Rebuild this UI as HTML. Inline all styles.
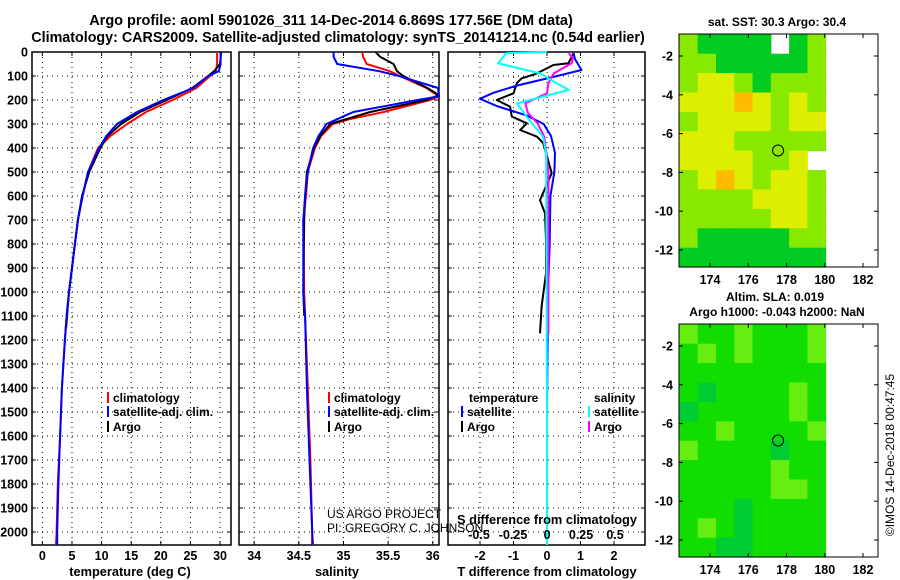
<!DOCTYPE html>
<html><head><meta charset="utf-8"><style>
html,body{margin:0;padding:0;background:#fff;}
svg{display:block;font-family:"Liberation Sans",sans-serif;font-weight:bold;}
</style></head><body>
<svg id="c" width="900" height="580" viewBox="0 0 900 580" xmlns="http://www.w3.org/2000/svg">
<text x="331" y="25" font-size="14.5" text-anchor="middle">Argo profile: aoml 5901026_311 14-Dec-2014 6.869S 177.56E (DM data)</text>
<text x="338" y="42" font-size="14.3" text-anchor="middle">Climatology: CARS2009. Satellite-adjusted climatology: synTS_20141214.nc (0.54d earlier)</text>
<text x="777" y="26" font-size="12" text-anchor="middle">sat. SST: 30.3 Argo: 30.4</text>
<text x="775" y="301" font-size="12" text-anchor="middle">Altim. SLA: 0.019</text>
<text x="777" y="316" font-size="12" text-anchor="middle">Argo h1000: -0.043 h2000: NaN</text>
<text transform="translate(894,455) rotate(-90)" font-size="12" font-weight="normal" text-anchor="middle">©IMOS 14-Dec-2018 00:47:45</text>
<g id="g"></g>
</svg>
<script>
// ---- data ----
const depthsT = [0,50,80,100,150,200,250,300,350,400,500,600,700,800,900,1000,1100,1200,1400,1600,1800,2000,2054];
const tempClim = [29.5,29.5,29.3,28.3,26,22,17.5,14.3,11.5,9.4,7.7,6.8,6.0,5.5,5.0,4.5,4.1,3.8,3.3,3.0,2.6,2.4,2.3];
const tempSat  = [30.1,30.1,29.8,28,25.5,20.4,16,12.6,10.8,9.6,7.7,6.8,6.0,5.5,5.0,4.5,4.1,3.8,3.3,3.0,2.7,2.5,2.5];
const depthsArgo = [0,50,80,100,150,200,250,300,350,400,500,600,700,800,900,1000,1150];
const tempArgo = [30.2,30,29,28,25.3,21,16.5,13.3,11,9.8,7.9,6.7,6.0,5.5,5.0,4.5,4.0];
const depthsS = [0,20,50,80,100,150,185,200,250,280,300,350,400,500,600,700,1000,1100,1400,1700,2000,2054];
const salClim = [35.21,35.22,35.26,35.52,35.63,35.93,36.07,35.97,35.45,35.07,34.88,34.75,34.68,34.6,34.58,34.55,34.56,34.57,34.6,34.63,34.65,34.66];
const salSat  = [34.89,34.89,34.93,35.4,35.62,36.06,36.07,35.83,35.11,34.93,34.81,34.72,34.66,34.6,34.57,34.55,34.55,34.57,34.59,34.62,34.65,34.65];
const depthsSA = [0,20,50,80,100,150,180,200,250,300,350,400,500,600,700,1000,1100];
const salArgo = [35.36,35.41,35.56,35.6,35.67,35.94,36.07,35.93,35.3,34.85,34.74,34.67,34.59,34.57,34.56,34.55,34.56];
const depthsDT = [4,30,75,100,140,170,195,225,265,300,350,420,500,600,800,1000,1500,2054];
const dTsat = [0.79,0.84,1.03,0.3,-0.9,-1.6,-2.0,-1.5,-0.6,-0.1,0.12,0.24,0.22,0.1,0.08,0.03,0.0,0.0];
const depthsDTA = [5,47,54,89,110,130,172,200,228,269,297,325,353,380,505,617,672,783,922,1061,1172];
const dTargo = [0.79,0.64,0.19,-0.3,-0.76,-0.9,-1.0,-1.5,-1.1,-1.05,-0.6,-0.8,-0.3,-0.11,0.14,-0.21,-0.06,-0.03,-0.03,-0.16,-0.21];
const depthsDS = [0,5,47,89,130,158,214,269,353,422,800,1500,2054];
const dSsat = [0.0,-0.3,-0.36,-0.05,0.07,0.16,-0.22,-0.15,-0.03,-0.007,-0.005,0.0,0.0];
const depthsDSA = [5,26,47,89,130,172,214,255,297,353,500,800,1172];
const dSargo = [0.16,0.19,0.18,0.05,0.01,0.0,-0.16,-0.14,-0.07,-0.02,0.01,0.01,0.01];
const depthTicks = [0,100,200,300,400,500,600,700,800,900,1000,1100,1200,1300,1400,1500,1600,1700,1800,1900,2000];
const tTicks = [0,5,10,15,20,25,30];
const sTicks = [34,34.5,35,35.5,36];
const sTickLabels = ["34","34.5","35","35.5","36"];
const dtTicks = [-2,-1,0,1,2];
const dsTicks = [-0.5,-0.25,0,0.25,0.5];
const dsTickLabels = ["-0.5","-0.25","0","0.25","0.5"];
const lonTicks = [174,176,178,180,182];
const latTicks = [-2,-4,-6,-8,-10,-12];
// map grids: rows lat -1..-13 (1 deg), cols lon 172.4..180.05
const sstGrid = [
 [1,0,0,0,0,-1,0,1],
 [1,1,0,0,0,0,0,1],
 [1,2,2,1,0,1,1,1],
 [2,2,2,3,2,1,2,1],
 [1,2,2,2,2,1,2,2],
 [2,2,2,1,1,1,1,1],
 [2,2,2,2,1,1,2,-1],
 [1,2,3,2,1,2,2,1],
 [1,1,1,1,2,2,2,1],
 [1,1,1,1,1,2,2,1],
 [1,0,0,0,0,0,1,1],
 [0,0,0,0,0,0,0,0]];
const slaGrid = [
 [2,1,1,2,1,1,1,2],
 [1,2,1,2,1,1,1,2],
 [1,1,1,1,1,1,1,1],
 [1,0,1,1,1,1,2,1],
 [0,1,1,1,1,1,2,1],
 [1,1,2,1,1,1,1,2],
 [2,1,1,1,1,0,1,1],
 [1,1,1,1,1,2,1,1],
 [1,1,1,1,1,2,2,1],
 [1,1,1,0,1,1,1,1],
 [1,2,1,0,1,1,1,1],
 [1,1,0,0,1,1,1,1]];
const argoLon = 177.56, argoLat = -6.87;

const NS="http://www.w3.org/2000/svg";
const G=document.getElementById('g');
function mk(tag,attrs,parent){const e=document.createElementNS(NS,tag);for(const k in attrs)e.setAttribute(k,attrs[k]);(parent||G).appendChild(e);return e;}
const Y0=52,Y1=545;
const yD=d=>Y0+0.24*d;
function lin(d0,d1,r0,r1){return v=>r0+(v-d0)*(r1-r0)/(d1-d0);}
const xT=lin(-1.75,31.85,32,231);
const xS=lin(33.83,36.07,239,439);
const xDT=lin(-2.955,2.925,448,645);
const xDS=lin(-0.728,0.72,448,645);

function panel(x0,x1,name){
  const g=mk('g',{});
  
  
  mk('rect',{x:x0,y:Y0,width:x1-x0,height:Y1-Y0,fill:'#fff',stroke:'#000','stroke-width':1.5},g);
  depthTicks.forEach(d=>{
    const y=yD(d);
    if(d>0) mk('line',{x1:x0,x2:x1,y1:y,y2:y,stroke:'#000','stroke-width':1,'stroke-dasharray':'1,4'},g);
    mk('line',{x1:x0,x2:x0+4,y1:y,y2:y,stroke:'#000'},g);
    mk('line',{x1:x1-4,x2:x1,y1:y,y2:y,stroke:'#000'},g);
  });
  return g;
}
function vgrid(g,ticks,xf,labels){
  ticks.forEach((t,i)=>{
    const x=xf(t);
    mk('line',{x1:x,x2:x,y1:Y0,y2:Y1,stroke:'#000','stroke-width':1,'stroke-dasharray':'1,4'},g);
    mk('line',{x1:x,x2:x,y1:Y1-4,y2:Y1,stroke:'#000'},g);
    mk('line',{x1:x,x2:x,y1:Y0,y2:Y0+4,stroke:'#000'},g);
    const tx=mk('text',{x:x,y:560,'font-size':12.5,'text-anchor':'middle'},g);
    tx.textContent=labels?labels[i]:String(t);
    
    
  });
}
function series(g,ds,vs,xf,color,w,name){
  const pts=ds.map((d,i)=>xf(vs[i]).toFixed(1)+','+yD(d).toFixed(1)).join(' ');
  const p=mk('polyline',{points:pts,fill:'none',stroke:color,'stroke-width':w,'stroke-linejoin':'round'},g);
  
  
}
function txt(g,x,y,s,size,anchor,name,extra){
  const t=mk('text',Object.assign({x:x,y:y,'font-size':size,'text-anchor':anchor||'start'},extra||{}),g);
  t.textContent=s;
  
  
  return t;
}
function legendItem(g,x,y,color,label){
  mk('line',{x1:x,x2:x,y1:y-10,y2:y+1,stroke:color,'stroke-width':2},g);
  txt(g,x+5,y,label,12,'start','legend-entry');
}
// Panel 1 temperature
const p1=panel(32,231,'temperature-panel');
depthTicks.forEach(d=>{txt(p1,28,yD(d)+4.5,String(d),12.5,'end','y-tick-label');});
vgrid(p1,tTicks,xT);
series(p1,depthsT,tempClim,xT,'#ff0000',2,'temp-climatology-line');
series(p1,depthsArgo,tempArgo,xT,'#000000',2,'temp-argo-line');
series(p1,depthsT,tempSat,xT,'#0000ff',2,'temp-satellite-line');
txt(p1,130,576,'temperature (deg C)',12.8,'middle','x-axis-title-temperature');
legendItem(p1,108,402,'#ff0000','climatology');
legendItem(p1,108,416,'#0000ff','satellite-adj. clim.');
legendItem(p1,108,431,'#000000','Argo');
// Panel 2 salinity
const p2=panel(239,439,'salinity-panel');
vgrid(p2,sTicks,xS,sTickLabels);
series(p2,depthsS,salClim,xS,'#ff0000',2,'sal-climatology-line');
series(p2,depthsSA,salArgo,xS,'#000000',2,'sal-argo-line');
series(p2,depthsS,salSat,xS,'#0000ff',2,'sal-satellite-line');
txt(p2,337,576,'salinity',12.8,'middle','x-axis-title-salinity');
legendItem(p2,329,402,'#ff0000','climatology');
legendItem(p2,329,416,'#0000ff','satellite-adj. clim.');
legendItem(p2,329,431,'#000000','Argo');
// Panel 3 differences
const p3=panel(448,645,'difference-panel');
vgrid(p3,dtTicks,xDT);
series(p3,depthsDTA,dTargo,xDT,'#000000',2,'tdiff-argo-line');
series(p3,depthsDT,dTsat,xDT,'#0000ff',2,'tdiff-satellite-line');
series(p3,depthsDSA,dSargo,xDS,'#ff00ff',2,'sdiff-argo-line');
series(p3,depthsDS,dSsat,xDS,'#00ffff',2,'sdiff-satellite-line');
txt(p3,547,576,'T difference from climatology',12.8,'middle','x-axis-title-tdiff');
txt(p3,547,524,'S difference from climatology',12.8,'middle','x-axis-title-sdiff');
dsTicks.forEach((t,i)=>{txt(p3,xDS(t),539,dsTickLabels[i],12.5,'middle','sdiff-tick-label');});
txt(p3,469,402,'temperature',12,'start','legend-header-temperature');
txt(p3,594,402,'salinity',12,'start','legend-header-salinity');
legendItem(p3,462,416,'#0000ff','satellite');
legendItem(p3,462,431,'#000000','Argo');
legendItem(p3,589,416,'#00ffff','satellite');
legendItem(p3,589,431,'#ff00ff','Argo');
// credits drawn on top (overlap panel 3)
txt(G,327,518,'US ARGO PROJECT',12,'start','credit-project',{'font-weight':'normal'});
txt(G,327,532,'PI: GREGORY C. JOHNSON',12,'start','credit-pi',{'font-weight':'normal'});
// Maps
const sstColors=['#00cc22','#88e800','#ddee00','#ffbb00'];
const slaColors=['#00cc33','#11dd00','#66ee11'];
function map(top,grid,colors,name){
  const g=mk('g',{});
  
  
  const xL=lin(174,182,710,863), yL=lin(-2,-12,top+22,top+216);
  const lon0=172.4, dlon=(180.05-172.4)/8;
  mk('rect',{x:679,y:top,width:199,height:233,fill:'#fff'},g);
  grid.forEach((row,r)=>row.forEach((v,c)=>{
    if(v<0)return;
    const x=xL(lon0+c*dlon), y=yL(-0.88-r);
    const cell=mk('rect',{x:x.toFixed(1),y:y.toFixed(1),width:(xL(lon0+(c+1)*dlon)-x+0.5).toFixed(1),height:(yL(-1.88-r)-y+0.5).toFixed(1),fill:colors[v]},g);
    
    
  }));
  mk('rect',{x:679,y:top,width:199,height:233,fill:'none',stroke:'#000','stroke-width':1},g);
  lonTicks.forEach(l=>{const x=xL(l);mk('line',{x1:x,x2:x,y1:top,y2:top+4,stroke:'#000'},g);mk('line',{x1:x,x2:x,y1:top+229,y2:top+233,stroke:'#000'},g);txt(g,x,top+250,String(l),12.5,'middle','map-lon-label');});
  latTicks.forEach(l=>{const y=yL(l);mk('line',{x1:679,x2:683,y1:y,y2:y,stroke:'#000'},g);mk('line',{x1:874,x2:878,y1:y,y2:y,stroke:'#000'},g);txt(g,673,y+4.5,String(l),12.5,'end','map-lat-label');});
  const ci=mk('circle',{cx:xL(argoLon),cy:yL(argoLat),r:5.5,fill:'none',stroke:'#000','stroke-width':1},g);
  
  
}
map(34,sstGrid,sstColors,'sst-map');
map(324,slaGrid,slaColors,'sla-map');
</script>
</body></html>
